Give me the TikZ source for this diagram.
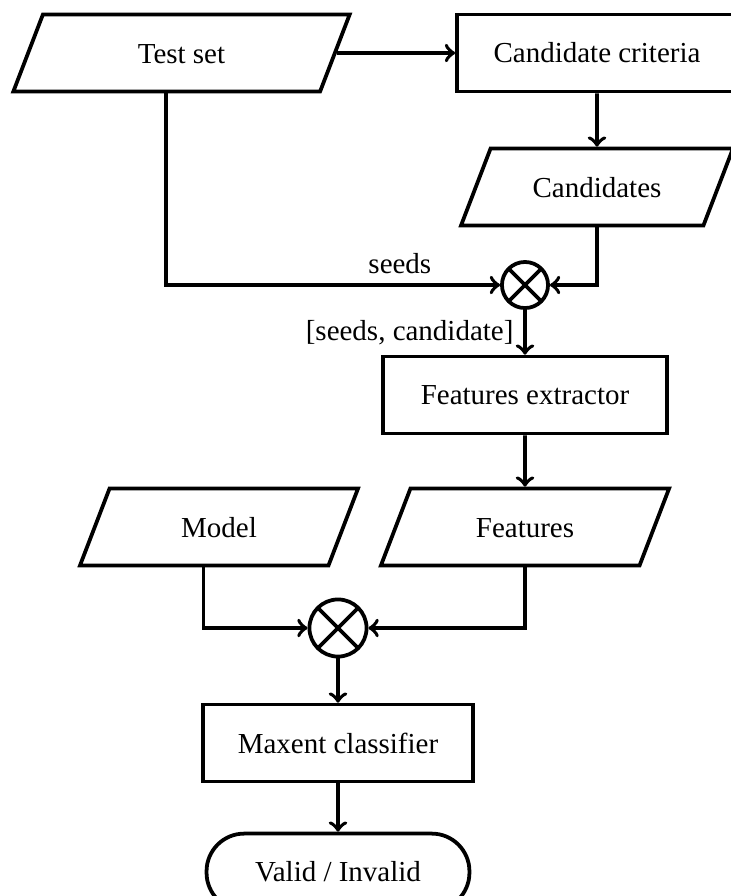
\documentclass[tikz,border=0pt]{standalone}
\usepackage{fontspec}
\setmainfont{Liberation Serif}
\usetikzlibrary{calc,positioning,shapes.geometric}
\tikzset{
 flow arrow/.style={line width=1.3pt,->},
 flow data/.style={trapezium,trapezium left angle=69,trapezium right angle=111,
                   trapezium stretches body,draw,line width=1.3pt,
                   text height=7pt,text depth=0pt,inner ysep=9.75pt},
 flow process/.style={rectangle,draw,line width=1.3pt,minimum height=26.5pt},
 flow terminal/.style={rectangle,rounded corners=13pt,draw,line width=1.3pt,
                       minimum height=26.5pt},
 flow mixer/.style={circle,draw,line width=1.3pt,inner sep=0pt,
   path picture={\draw[line width=1.3pt]
     (path picture bounding box.north west)--(path picture bounding box.south east)
     (path picture bounding box.north east)--(path picture bounding box.south west);}},
 flow label/.style={font=\normalsize}
}
\begin{document}
\begin{tikzpicture}[x=0.345pt,y=-0.345pt]
 \useasboundingbox (0,0) rectangle (731,896);
 \clip (0,0) rectangle (731,896);

 \node[flow data,minimum width=116pt] (test) at (181.5,53) {Test set};
 \node[flow process,minimum width=96.6pt] (crit) at (597,53) {Candidate criteria};
 \node[flow data,minimum width=93.8pt] (cands) at (597,187) {Candidates};
 \node[flow mixer,minimum size=15.9pt] (mix1) at (525,285) {};
 \node[flow process,minimum width=98pt] (fextr) at (525,395) {Features extractor};
 \node[flow data,minimum width=95.9pt] (model) at (219,527) {Model};
 \node[flow data,minimum width=99.4pt] (feats) at (525,527) {Features};
 \node[flow mixer,minimum size=19.7pt] (mix2) at (338,628) {};
 \node[flow process,minimum width=93.2pt] (maxent) at (338,743) {Maxent classifier};
 \node[flow terminal,minimum width=90.7pt] (result) at (338,872) {Valid / Invalid};

 \draw[flow arrow] (test) -- (crit);
 \draw[flow arrow] (crit) -- (cands);
 \draw[flow arrow] (cands.south) |- (mix1.east);
 \draw[flow arrow] (test.bottom side) |- node[flow label,above,pos=.85] {seeds} (mix1.west);
 \draw[flow arrow] (mix1) -- node[flow label,left] {[seeds, candidate]} (fextr);
 \draw[flow arrow] (fextr) -- (feats);
 \draw[flow arrow] (model.bottom side) |- (mix2.west);
 \draw[flow arrow] (feats.south) |- (mix2.east);
 \draw[flow arrow] (mix2) -- (maxent);
 \draw[flow arrow] (maxent) -- (result);
\end{tikzpicture}
\end{document}
